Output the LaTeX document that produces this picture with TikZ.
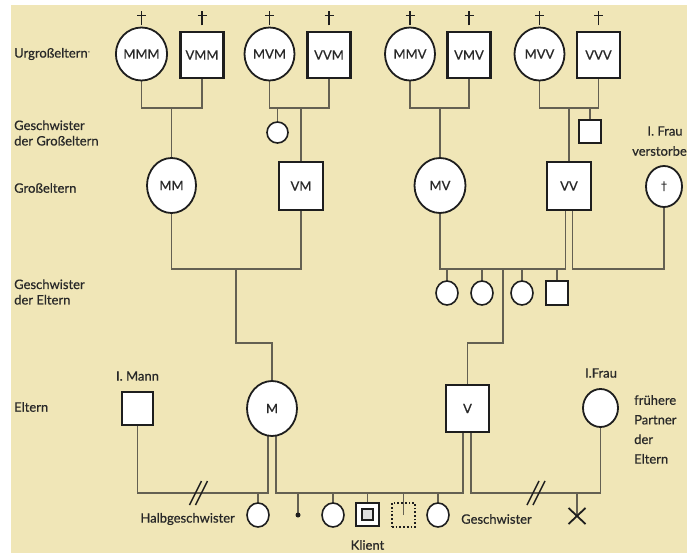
\documentclass[tikz,border=0pt]{standalone}
\usepackage{fontspec}
\setmainfont{Lato}[FakeBold=0.6]
\newfontfamily\djv{DejaVu Sans}
\usetikzlibrary{shapes.geometric}
\definecolor{bg}{RGB}{240,230,183}
\definecolor{ln}{RGB}{100,96,82}
\definecolor{tx}{RGB}{40,40,40}
\definecolor{bd}{RGB}{30,30,30}
\pgfdeclarelayer{bgl}
\pgfdeclarelayer{background}
\pgfsetlayers{bgl,background,main}
\begin{document}
\begin{tikzpicture}[x=1pt,y=-1pt,
  font=\fontsize{13}{15}\selectfont, text=tx,
  fem/.style={ellipse, draw=bd, fill=white, line width=1.8, inner sep=0, minimum width=50, minimum height=53},
  mal/.style={rectangle, draw=bd, fill=white, line width=2.2, inner sep=0, minimum width=43, minimum height=46},
  sfem/.style={ellipse, draw=bd, fill=white, line width=1.6, inner sep=0, minimum width=22, minimum height=24},
  smal/.style={rectangle, draw=bd, fill=white, line width=1.8, inner sep=0, minimum width=22, minimum height=23},
  conn/.style={draw=ln, line width=1.4},
  sym/.style={draw=bd, line width=1.5},
  lab/.style={anchor=west, align=left, inner sep=0},
  clab/.style={inner sep=0}
]
\useasboundingbox (0,0) rectangle (687,553);
\begin{pgfonlayer}{bgl}
\fill[white] (0,0) rectangle (687,553);
\fill[bg] (11,5) rectangle (687,553);
\end{pgfonlayer}

% row labels
\node[lab] (l1) at (14,54) {Urgroßeltern\raisebox{4pt}{\fontsize{6}{6}\selectfont -}};
\node[lab, font=\fontsize{13}{15.5}\selectfont] (l2) at (14,133) {Geschwister\\der Großeltern};
\node[lab] (l3) at (14,188) {Großeltern};
\node[lab, font=\fontsize{13}{15.5}\selectfont] (l4) at (14,292) {Geschwister\\der Eltern};
\node[lab] (l5) at (14,407) {Eltern};

% great-grandparents
\node[fem] (MMM) at (141.5,54) {MMM};
\node[mal] (VMM) at (202,55) {VMM};
\node[fem] (MVM) at (269.5,54) {MVM};
\node[mal] (VVM) at (329,55) {VVM};
\node[fem] (MMV) at (410,54) {MMV};
\node[mal] (VMV) at (469,55) {VMV};
\node[fem] (MVV) at (539.5,54) {MVV};
\node[mal] (VVV) at (598.5,55) {VVV};
\foreach \n in {MMM,VMM,MVM,VVM,MMV,VMV,MVV,VVV}{
  \coordinate (ct) at (\n.center |- 0,25.5);
  \draw[sym] (ct) -- ++(0,-14) ++(-4.5,4) -- ++(9,0);
}

% siblings of grandparents
\node[sfem, minimum width=21, minimum height=21] (sB) at (277.5,132.5) {};
\node[smal] (sD) at (590,131.5) {};

% grandparents
\node[fem, minimum width=49, minimum height=55] (MM) at (171.5,185.5) {MM};
\node[mal, minimum width=44, minimum height=48] (VM) at (301,186) {VM};
\node[fem, minimum width=51, minimum height=55] (MV) at (440,185.5) {MV};
\node[mal, minimum width=44, minimum height=48] (VV) at (569,186) {VV};
\node[fem, minimum width=36, minimum height=41] (FR) at (664,186.5) {\djv\fontsize{12}{12}\selectfont †};
\node[clab] (lFR1) at (665,131) {I. Frau};
\node[lab] (lFR2) at (632,151) {verstorben};

\coordinate (jA) at (171.5,108);
\coordinate (jB) at (301,108);
\coordinate (jC) at (440,108);
\coordinate (jD) at (569,108);
\begin{pgfonlayer}{background}
\draw[conn] (MMM.center) |- (jA) -| (VMM.center);
\draw[conn] (jA) -- (MM.center);
\draw[conn] (MVM.center) |- (jB) -| (VVM.center);
\draw[conn] (jB) -- (VM.center);
\draw[conn] (sB.center) -- (sB.center |- jB);
\draw[conn] (MMV.center) |- (jC) -| (VMV.center);
\draw[conn] (jC) -- (MV.center);
\draw[conn] (MVV.center) |- (jD) -| (VVV.center);
\draw[conn] (jD) -- (VV.center);
\draw[conn] (sD.center) -- (sD.center |- jD);
\end{pgfonlayer}

% siblings of parents
\node[sfem] (c1) at (447,293) {};
\node[sfem] (c2) at (482,293) {};
\node[sfem] (c3) at (522,293) {};
\node[smal, minimum height=24] (c4) at (557,293) {};

% parents
\node[mal, minimum width=31, minimum height=33] (IM) at (137.5,408.5) {};
\node[clab] (lIM) at (137.5,376) {I. Mann};
\node[fem, minimum width=50, minimum height=55] (M) at (272,408.5) {M};
\node[mal, minimum width=43, minimum height=47] (V) at (467.5,408.5) {V};
\node[fem, minimum width=35, minimum height=38] (IF) at (600.5,408) {};
\node[clab] (lIF) at (601,373) {I.Frau};
\node[anchor=north west, align=left, inner sep=0, font=\fontsize{13}{19.6}\selectfont] (lfp) at (634,395) {frühere\\Partner\\der\\Eltern};

\coordinate (jE) at (236,269);
\coordinate (kM) at (236,343);
\coordinate (jF) at (503,269);
\coordinate (jG) at (620,269);
\coordinate (kV) at (503,343);
\begin{pgfonlayer}{background}
\draw[conn] (MM.center) |- (jE) -| (VM.center);
\draw[conn] (jE) -- (kM) -| (M.center);
\draw[conn] (MV.center) |- (jF) -| ([xshift=-3.5]VV.center);
\draw[conn] ([xshift=3.5]VV.center) |- (jG) -| (FR.center);
\foreach \c in {c1,c2,c3,c4}{ \draw[conn] (\c.center) -- (\c.center |- jF); }
\draw[conn] (jF) -- (kV) -| (V.center);
\end{pgfonlayer}

% children row
\node[sfem] (hs) at (258,515) {};
\node[anchor=east, inner sep=0] (lhs) at (235,519) {Halbgeschwister};
\node[circle, fill=bd, inner sep=0, minimum size=5] (dt) at (298,515) {};
\node[sfem] (c5) at (333,515) {};
\node[rectangle, draw=bd, fill=white, line width=2.2, inner sep=0, minimum size=23] (KL) at (367.5,514.5) {};
\node[rectangle, draw=bd, fill=black!12, line width=2, inner sep=0, minimum size=11] (KLi) at (KL.center) {};
\node[clab] (lKL) at (367.5,545) {Klient};
\node[rectangle, draw=bd, dotted, line width=1.7, fill=none, inner sep=0, minimum width=23, minimum height=24] (DQ) at (403.5,515) {};
\node[sfem] (c6) at (438,515) {};
\node[anchor=west, inner sep=0] (lgs) at (461,519) {Geschwister};
\coordinate (xx) at (577,516);

\coordinate (b1) at (268,493);
\coordinate (b2) at (276,493);
\coordinate (b3) at (463,493);
\coordinate (b4) at (471,493);
\coordinate (b5) at (600.5,493);
\begin{pgfonlayer}{background}
\draw[conn] (IM.center) |- (b1) -- ([xshift=-4]M.center);
\draw[conn] (hs.center) -- (hs.center |- b1);
\draw[conn] ([xshift=4]M.center) -- (b2) -- (b3) -- ([xshift=-4.5]V.center);
\foreach \c in {dt,c5,KL,DQ,c6}{ \draw[conn] (\c.center) -- (\c.center |- b2); }
\draw[conn] ([xshift=3.5]V.center) -- (b4) -- (b5) -- (IF.center);
\draw[conn] (xx) -- (xx |- b5);
\end{pgfonlayer}
% divorce slashes
\draw[sym] (189.5,505) -- (201.5,481) (195.5,505) -- (207.5,481);
\draw[sym] (527,505) -- (539,481) (533,505) -- (545,481);
% deceased child
\draw[sym, line width=1.8] ([shift={(-8.5,-8)}]xx) -- ([shift={(8.5,8)}]xx) ([shift={(8.5,-8)}]xx) -- ([shift={(-8.5,8)}]xx);
\end{tikzpicture}
\end{document}
